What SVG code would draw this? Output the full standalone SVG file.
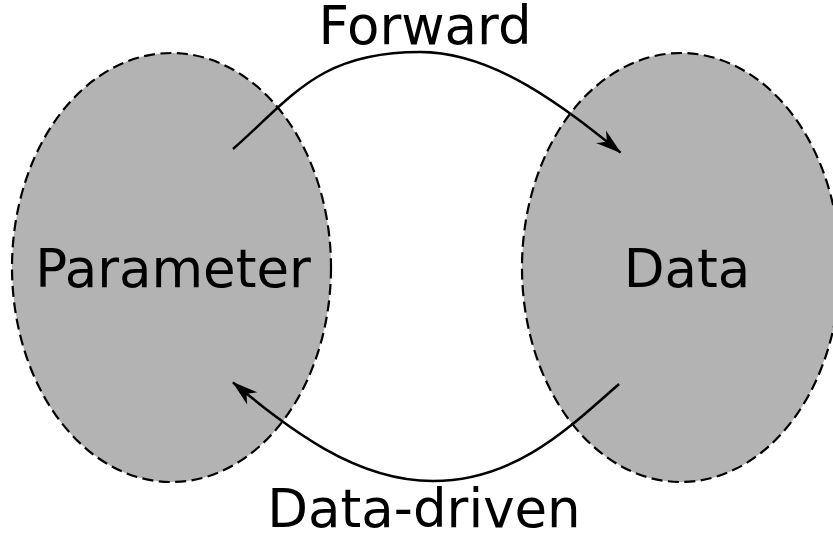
<svg xmlns="http://www.w3.org/2000/svg" width="833" height="536" viewBox="0 0 833 536">
<style>
.node{fill:#b3b3b3;stroke:#000;stroke-width:2.2;stroke-dasharray:11,5.5}
.lbl{font-family:"DejaVu Sans",sans-serif;font-size:53px;fill:#000;text-anchor:middle}
.edge{fill:none;stroke:#000;stroke-width:2.5}
</style>
<defs>
<marker id="arr" viewBox="-27 -9 29 18" refX="0" refY="0" markerWidth="29" markerHeight="18" markerUnits="userSpaceOnUse" orient="auto">
<path d="M1,0 L-25,-8 Q-19,-2 -18,0 Q-19,2 -25,8 Z" fill="#000"/>
</marker>
</defs>
<g id="parameter">
<ellipse class="node" cx="171.5" cy="267.5" rx="159.5" ry="214.5"/>
<text class="lbl" x="173" y="287">Parameter</text>
</g>
<g id="data">
<ellipse class="node" cx="681" cy="267.5" rx="159" ry="214.5"/>
<text class="lbl" x="687" y="287">Data</text>
</g>
<g id="connectors">
<path class="edge" d="M233,149 C293,96 320,52 420,52 C495,52 565,108 620.5,152.5" marker-end="url(#arr)"/>
<text class="lbl" x="425" y="44">Forward</text>
<path class="edge" d="M619,384 C569,428 515,481 433,481 C355,481 288,428 233,382.5" marker-end="url(#arr)"/>
<text class="lbl" x="424" y="527">Data-driven</text>
</g>
</svg>
